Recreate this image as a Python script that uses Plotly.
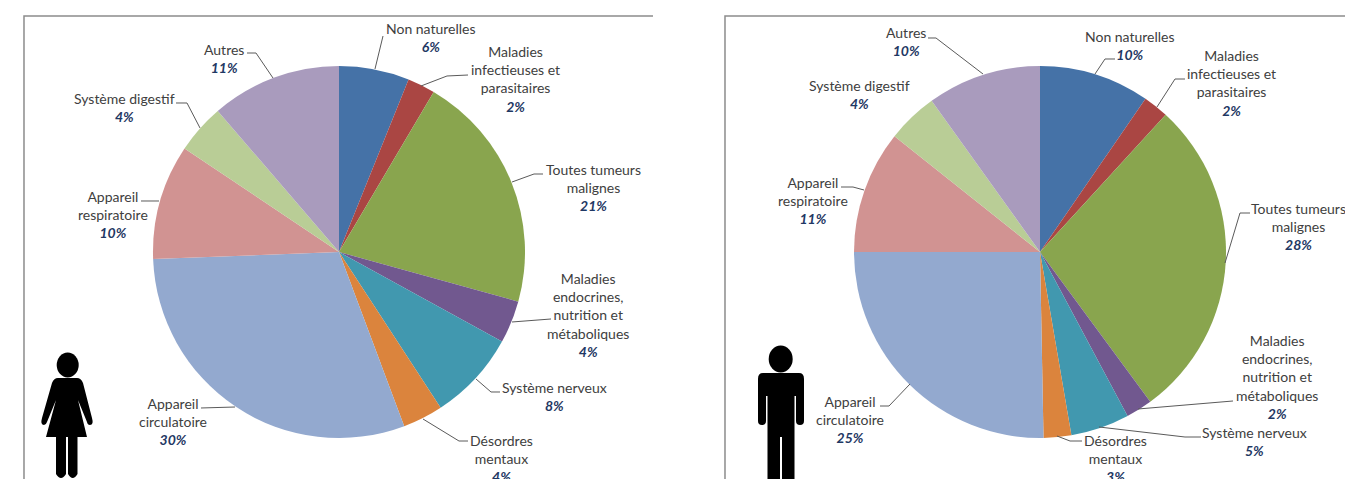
import plotly.graph_objects as go

W, H = 1345, 479

categories = ["Non naturelles", "Maladies infectieuses et parasitaires", "Toutes tumeurs malignes",
              "Maladies endocrines, nutrition et métaboliques", "Système nerveux", "Désordres mentaux",
              "Appareil circulatoire", "Appareil respiratoire", "Système digestif", "Autres"]
femmes = [6.1, 2.4, 20.8, 3.7, 7.8, 3.5, 30.1, 10.0, 4.3, 11.3]
hommes = [9.6, 2.2, 28.1, 2.3, 5.1, 2.4, 25.3, 10.7, 4.4, 9.9]
femmes_labels = ["6%", "2%", "21%", "4%", "8%", "4%", "30%", "10%", "4%", "11%"]
hommes_labels = ["10%", "2%", "28%", "2%", "5%", "3%", "25%", "11%", "4%", "10%"]
label_lines = ["Non naturelles", "Maladies<br>infectieuses et<br>parasitaires", "Toutes tumeurs<br>malignes",
               "Maladies<br>endocrines,<br>nutrition et<br>métaboliques", "Système nerveux", "Désordres<br>mentaux",
               "Appareil<br>circulatoire", "Appareil<br>respiratoire", "Système digestif", "Autres"]
colors = ["#4572A7", "#AA4643", "#89A54E", "#71588F", "#4198AF", "#DB843D",
          "#93A9CF", "#D19392", "#B9CD96", "#A99BBD"]

# layout: label block centres in page pixels
pos_f = [(431, 37), (515, 79), (593, 187), (588, 315), (554, 396), (501, 458), (173, 421), (113, 214), (125, 108), (224, 58)]
pos_h = [(1130, 45), (1231, 83), (1298, 226), (1277, 377), (1254, 441), (1115, 458), (850, 419), (813, 200), (860, 95), (906, 42)]
leaders_f = [[(383, 36), (375, 69)], [(468, 75), (447, 76), (421, 86)], [(543, 174), (534, 174), (512, 182)],
             [(551, 319), (512, 322)], [(500, 392), (491, 392), (476, 379)], [(468, 441), (459, 441), (423, 419)],
             [(201, 408), (235, 407)], [(141, 201), (159, 201)], [(176, 103), (187, 103), (200, 128)],
             [(247, 53), (256, 53), (273, 78)]]
leaders_h = [[(1115, 59), (1105, 59), (1095, 74)], [(1185, 79), (1175, 79), (1157, 107)],
             [(1250, 213), (1240, 213), (1225, 263)], [(1233, 401), (1138, 409)],
             [(1201, 437), (1185, 437), (1099, 427)], [(1082, 441), (1070, 441), (1057, 436)],
             [(880, 406), (889, 406), (910, 384)], [(841, 187), (853, 187), (864, 190)],
             [(928, 38), (936, 38), (983, 74)]]


def X(v): return v / W
def Y(v): return 1 - v / H


def path(points, close=False):
    d = "M " + " L ".join(f"{X(x):.5f},{Y(y):.5f}" for x, y in points)
    return d + (" Z" if close else "")


def curve(cmds):
    out = []
    for c in cmds:
        coords = " ".join(f"{X(c[i]):.5f},{Y(c[i + 1]):.5f}" for i in range(1, len(c), 2))
        out.append(f"{c[0]} {coords}")
    return " ".join(out) + " Z"


fig = go.Figure()
for vals, dom in ((femmes, (152, 526)), (hommes, (853, 1227))):
    fig.add_trace(go.Pie(labels=categories, values=vals, sort=False, direction="clockwise", rotation=0,
                         textinfo="none", hoverinfo="label+percent", showlegend=False,
                         marker=dict(colors=colors, line=dict(width=0)),
                         domain=dict(x=[X(dom[0]), X(dom[1])], y=[Y(438), Y(66)])))

shapes = []
for pts in ([(24, 479), (24, 16), (653, 16)], [(725, 479), (725, 16), (1345, 16)]):
    shapes.append(dict(type="path", xref="paper", yref="paper", path=path(pts),
                       line=dict(color="#8C8C8C", width=1.5)))
for pts in leaders_f + leaders_h:
    shapes.append(dict(type="path", xref="paper", yref="paper", path=path(pts),
                       line=dict(color="#5A5A5A", width=1)))


def black(cmds):
    shapes.append(dict(type="path", xref="paper", yref="paper", path=curve(cmds),
                       fillcolor="black", line=dict(width=0)))


def head(cx, cy, rx, ry):
    shapes.append(dict(type="circle", xref="paper", yref="paper", x0=X(cx - rx), x1=X(cx + rx),
                       y0=Y(cy + ry), y1=Y(cy - ry), fillcolor="black", line=dict(width=0)))


# woman
head(67.7, 365, 11, 12.5)
black([("M", 58, 378), ("L", 77, 378), ("Q", 81, 378, 83, 383), ("L", 92, 418),
       ("Q", 94, 425, 90, 425), ("Q", 87.5, 425, 87, 422), ("L", 78, 400), ("L", 87, 437),
       ("L", 46, 437), ("L", 56, 400), ("L", 47, 422), ("Q", 46, 425, 44, 425),
       ("Q", 40, 425, 42, 418), ("L", 52, 383), ("Q", 54, 378, 58, 378)])
black([("M", 56, 437), ("L", 66, 437), ("L", 66, 474), ("Q", 61, 482, 56, 474)])
black([("M", 68, 437), ("L", 77.5, 437), ("L", 77.5, 474), ("Q", 72.7, 482, 68, 474)])
# man
head(780.7, 359, 12, 13.5)
black([("M", 763, 373), ("L", 799, 373), ("Q", 804, 373, 804, 379), ("L", 804, 421),
       ("Q", 804, 425, 800, 425), ("Q", 796, 425, 796, 421), ("L", 796, 396), ("L", 794.5, 396),
       ("L", 794.5, 479), ("L", 782, 479), ("L", 782, 437), ("L", 780, 437), ("L", 780, 479),
       ("L", 767.5, 479), ("L", 767.5, 396), ("L", 766, 396), ("L", 766, 421),
       ("Q", 766, 425, 762, 425), ("Q", 758, 425, 758, 421), ("L", 758, 379), ("Q", 758, 373, 763, 373)])
fig.update_layout(shapes=shapes)

for pos, pct in ((pos_f, femmes_labels), (pos_h, hommes_labels)):
    for (x, y), name, p in zip(pos, label_lines, pct):
        fig.add_annotation(xref="paper", yref="paper", x=X(x), y=Y(y), xanchor="center", yanchor="middle",
                           showarrow=False, align="center",
                           text=f"{name}<br><b><i><span style='color:#1F3864'>{p}</span></i></b>",
                           font=dict(family="Lato, Carlito, sans-serif", size=14, color="#404040"))

fig.update_layout(width=W, height=H, margin=dict(l=0, r=0, t=0, b=0),
                  paper_bgcolor="white", plot_bgcolor="white", autosize=False)
fig.write_html("out.html", config=dict(displayModeBar=False),
               post_script="document.body.style.margin='0';document.body.style.overflow='hidden';")
